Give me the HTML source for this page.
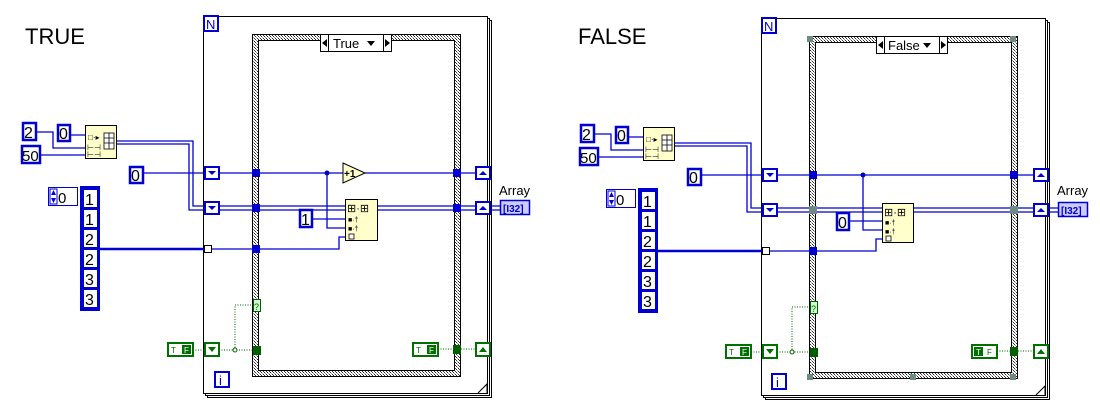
<!DOCTYPE html>
<html><head><meta charset="utf-8"><style>
html,body{margin:0;padding:0;background:#fff;}
svg{display:block;font-family:"Liberation Sans",sans-serif;}
</style></head><body>
<svg width="1100" height="418" viewBox="0 0 1100 418" xmlns="http://www.w3.org/2000/svg">
<defs>
<pattern id="hatch" width="3" height="3" patternUnits="userSpaceOnUse">
<rect width="3" height="3" fill="#fff"/><rect width="1" height="1" fill="#333"/><rect x="1" y="1" width="1" height="1" fill="#999"/><rect x="2" y="2" width="1" height="1" fill="#333"/>
</pattern>
</defs>

<!-- ================= TRUE ================= -->
<g>
<text x="25" y="44" font-size="22" fill="#000">TRUE</text>
<rect x="207.5" y="20.5" width="284" height="377" fill="none" stroke="#000"/>
<rect x="205.5" y="18.5" width="284" height="377" fill="#fff" stroke="#000"/>
<rect x="203.5" y="16.5" width="284" height="377" fill="#fff" stroke="#000"/>
<path d="M478 393 L487 384 L487 393" fill="#fff" stroke="#000"/>
<rect x="204" y="16" width="14" height="15" fill="#fff" stroke="#0000d0" stroke-width="2"/>
<text x="206" y="29" font-size="13" fill="#0000d0">N</text>
<rect x="252.5" y="34.5" width="208" height="342" fill="url(#hatch)" stroke="#000"/>
<rect x="258.5" y="40.5" width="196" height="330" fill="#fff" stroke="#000"/>
<rect x="320.5" y="34.5" width="71" height="17" fill="#fff" stroke="#000"/>
<line x1="328.5" y1="34" x2="328.5" y2="52" stroke="#000"/><line x1="383.5" y1="34" x2="383.5" y2="52" stroke="#000"/>
<path d="M327 39 L322 43 L327 47Z M385 39 L390 43 L385 47Z M367 41 L375 41 L371 46Z" fill="#000"/>
<text x="333" y="48" font-size="13">True</text>
<rect x="23" y="123" width="13" height="17" fill="#fff" stroke="#0000d0" stroke-width="2.5"/><text x="24" y="138" font-size="16">2</text>
<rect x="58" y="125" width="12" height="16" fill="#fff" stroke="#0000d0" stroke-width="2.5"/><text x="59" y="139" font-size="16">0</text>
<rect x="22" y="146" width="18" height="17" fill="#fff" stroke="#0000d0" stroke-width="2.5"/><text x="22" y="161" font-size="15">50</text>
<path d="M37 132 H53 V148 H86 M41 155 H86 M71 135 H86" fill="none" stroke="#0000d0" stroke-width="1.3"/>
<rect x="85.5" y="125.5" width="31" height="33" fill="#ffffcc" stroke="#000"/>
<text x="88" y="140" font-size="8">□·▸</text><text x="87" y="150" font-size="8">⊢⊣</text><text x="87" y="157" font-size="8">⊢⊣</text>
<rect x="104" y="133" width="10" height="16" fill="#fff" stroke="#000" stroke-width="0.8"/>
<path d="M104 138H114M104 143H114M109 133V149" stroke="#000" stroke-width="0.8"/>
<rect x="130" y="167" width="13" height="16" fill="#fff" stroke="#0000d0" stroke-width="2.5"/><text x="131" y="181" font-size="16">0</text>
<rect x="48.5" y="187.5" width="29" height="18" fill="#fff" stroke="#0000d0"/>
<rect x="50" y="189" width="7" height="15" fill="#fff" stroke="#0000d0"/>
<path d="M53.5 190 L56 195 L51 195Z M53.5 203 L56 198 L51 198Z" fill="#0000d0"/>
<text x="58" y="203" font-size="15">0</text>
<rect x="80.5" y="186.5" width="19" height="124" fill="#0000d0" stroke="#0000d0"/>
<g font-size="16" fill="#000">
<rect x="84" y="190" width="13" height="17" fill="#fff"/><text x="85" y="205">1</text>
<rect x="84" y="210" width="13" height="17" fill="#fff"/><text x="85" y="225">1</text>
<rect x="84" y="230" width="13" height="17" fill="#fff"/><text x="85" y="245">2</text>
<rect x="84" y="250" width="13" height="17" fill="#fff"/><text x="85" y="265">2</text>
<rect x="84" y="270" width="13" height="17" fill="#fff"/><text x="85" y="285">3</text>
<rect x="84" y="290" width="13" height="17" fill="#fff"/><text x="85" y="305">3</text>
</g>
<path d="M144 173 H205" stroke="#0000d0" stroke-width="1.3"/>
<path d="M219 173 H343 M365 173 H476" stroke="#0000d0" stroke-width="1.3"/>
<path d="M117 141 H193 V206 H205 M117 144 H189 V210 H205" fill="none" stroke="#0000d0" stroke-width="1.3"/>
<path d="M219 206 H345 M219 210 H345 M377 206 H476 M377 210 H476 M490 206 H500 M490 210 H500" stroke="#0000d0" stroke-width="1.3"/>
<path d="M100 249 H204" stroke="#0000d0" stroke-width="2.5"/>
<path d="M212 249 H339 V237 H345" fill="none" stroke="#0000d0" stroke-width="1.3"/>
<path d="M313 219 H345 M327 173 V228 H345" fill="none" stroke="#0000d0" stroke-width="1.3"/>
<circle cx="327" cy="173" r="2.5" fill="#0000d0"/>
<rect x="205" y="167" width="14" height="12" fill="#fff" stroke="#0000d0" stroke-width="2"/><path d="M208 171H216L212 175Z" fill="#0000d0"/>
<rect x="205" y="202" width="14" height="12" fill="#fff" stroke="#0000d0" stroke-width="2"/><path d="M208 206H216L212 210Z" fill="#0000d0"/>
<rect x="476" y="167" width="14" height="12" fill="#fff" stroke="#0000d0" stroke-width="2"/><path d="M479 175H487L483 171Z" fill="#0000d0"/>
<rect x="476" y="202" width="14" height="12" fill="#fff" stroke="#0000d0" stroke-width="2"/><path d="M479 210H487L483 206Z" fill="#0000d0"/>
<rect x="204.5" y="245.5" width="7" height="7" fill="#fff" stroke="#000"/>
<rect x="252" y="169" width="8" height="8" fill="#0000d0"/><rect x="252" y="204" width="8" height="8" fill="#0000d0"/><rect x="252" y="245" width="8" height="8" fill="#0000d0"/>
<rect x="453" y="169" width="8" height="8" fill="#0000d0"/><rect x="453" y="204" width="8" height="8" fill="#0000d0"/>
<path d="M343 163 L365 173 L343 183Z" fill="#ffffcc" stroke="#000"/><text x="344" y="177" font-size="10" font-weight="bold">+1</text>
<rect x="345.5" y="199.5" width="32" height="41" fill="#ffffcc" stroke="#000"/>
<text x="347" y="212" font-size="11">⊞·⊞</text>
<text x="348" y="222" font-size="7">■·†</text><text x="348" y="231" font-size="7">■·†</text>
<rect x="349" y="234" width="5" height="5" fill="#fff" stroke="#000" stroke-width="0.8"/>
<rect x="300" y="210" width="12" height="17" fill="#fff" stroke="#0000d0" stroke-width="2.5"/><text x="301" y="225" font-size="16">1</text>
<text x="499" y="195" font-size="13">Array</text>
<rect x="500.5" y="200.5" width="29" height="14" fill="#ccccff" stroke="#0000d0" stroke-width="1.5"/>
<text x="503" y="212" font-size="10" font-weight="bold" fill="#0000d0">[I32]</text>
<path d="M193 350 H205 M219 350 H253" stroke="#006000" stroke-dasharray="1,1.5"/>
<path d="M235 350 V305 H253" fill="none" stroke="#006000" stroke-dasharray="1,1.5"/>
<circle cx="235" cy="350" r="2" fill="#fff" stroke="#006000"/>
<rect x="253.5" y="299.5" width="7" height="12" fill="#ccffcc" stroke="#006000"/><text x="254" y="310" font-size="9" fill="#006000">?</text>
<rect x="168" y="343" width="25" height="13" fill="#fff" stroke="#007000" stroke-width="2"/><text x="171" y="353" font-size="8" fill="#007000">T</text><rect x="182" y="345" width="9" height="9" fill="#007000"/><text x="184" y="353" font-size="8" fill="#fff">F</text>
<rect x="205" y="343" width="14" height="13" fill="#fff" stroke="#007000" stroke-width="2"/><path d="M208 347H216L212 352Z" fill="#007000"/>
<rect x="253" y="346" width="8" height="9" fill="#006000"/>
<rect x="413" y="343" width="25" height="13" fill="#fff" stroke="#007000" stroke-width="2"/><text x="416" y="353" font-size="8" fill="#007000">T</text><rect x="427" y="345" width="9" height="9" fill="#007000"/><text x="429" y="353" font-size="8" fill="#fff">F</text>
<path d="M438 349 H453 M461 349 H476" stroke="#006000" stroke-dasharray="1,1.5"/>
<rect x="453" y="345" width="8" height="9" fill="#006000"/>
<rect x="476" y="343" width="14" height="13" fill="#fff" stroke="#007000" stroke-width="2"/><path d="M479 352H487L483 347Z" fill="#007000"/>
<rect x="215" y="372" width="14" height="15" fill="#fff" stroke="#0000d0" stroke-width="2"/><text x="219" y="385" font-size="13" fill="#0000d0">i</text>
</g>

<!-- ================= FALSE ================= -->
<g transform="translate(558,2)">
<text x="20" y="42" font-size="22" fill="#000">FALSE</text>
<rect x="207.5" y="20.5" width="284" height="377" fill="none" stroke="#000"/>
<rect x="205.5" y="18.5" width="284" height="377" fill="#fff" stroke="#000"/>
<rect x="203.5" y="16.5" width="284" height="377" fill="#fff" stroke="#000"/>
<path d="M478 393 L487 384 L487 393" fill="#fff" stroke="#000"/>
<rect x="204" y="16" width="14" height="15" fill="#fff" stroke="#0000d0" stroke-width="2"/>
<text x="206" y="29" font-size="13" fill="#0000d0">N</text>
<rect x="251.5" y="34.5" width="208" height="342" fill="url(#hatch)" stroke="#000"/>
<rect x="257.5" y="40.5" width="196" height="330" fill="#fff" stroke="#000"/>
<g fill="#6f8a80"><rect x="249" y="34" width="6" height="6"/><rect x="452" y="34" width="6" height="6"/><rect x="352" y="34" width="6" height="6"/><rect x="249" y="372" width="6" height="6"/><rect x="452" y="372" width="6" height="6"/><rect x="352" y="372" width="6" height="6"/></g>
<rect x="318.5" y="34.5" width="71" height="17" fill="#fff" stroke="#000"/>
<line x1="326.5" y1="34" x2="326.5" y2="52" stroke="#000"/><line x1="381.5" y1="34" x2="381.5" y2="52" stroke="#000"/>
<path d="M325 39 L320 43 L325 47Z M383 39 L388 43 L383 47Z M365 41 L373 41 L369 46Z" fill="#000"/>
<text x="330" y="48" font-size="13">False</text>
<rect x="23" y="123" width="13" height="17" fill="#fff" stroke="#0000d0" stroke-width="2.5"/><text x="24" y="138" font-size="16">2</text>
<rect x="58" y="125" width="12" height="16" fill="#fff" stroke="#0000d0" stroke-width="2.5"/><text x="59" y="139" font-size="16">0</text>
<rect x="22" y="146" width="18" height="17" fill="#fff" stroke="#0000d0" stroke-width="2.5"/><text x="22" y="161" font-size="15">50</text>
<path d="M37 132 H53 V148 H86 M41 155 H86 M71 135 H86" fill="none" stroke="#0000d0" stroke-width="1.3"/>
<rect x="85.5" y="125.5" width="31" height="33" fill="#ffffcc" stroke="#000"/>
<text x="88" y="140" font-size="8">□·▸</text><text x="87" y="150" font-size="8">⊢⊣</text><text x="87" y="157" font-size="8">⊢⊣</text>
<rect x="104" y="133" width="10" height="16" fill="#fff" stroke="#000" stroke-width="0.8"/>
<path d="M104 138H114M104 143H114M109 133V149" stroke="#000" stroke-width="0.8"/>
<rect x="130" y="167" width="13" height="16" fill="#fff" stroke="#0000d0" stroke-width="2.5"/><text x="131" y="181" font-size="16">0</text>
<rect x="48.5" y="187.5" width="29" height="18" fill="#fff" stroke="#0000d0"/>
<rect x="50" y="189" width="7" height="15" fill="#fff" stroke="#0000d0"/>
<path d="M53.5 190 L56 195 L51 195Z M53.5 203 L56 198 L51 198Z" fill="#0000d0"/>
<text x="58" y="203" font-size="15">0</text>
<rect x="80.5" y="186.5" width="19" height="124" fill="#0000d0" stroke="#0000d0"/>
<g font-size="16" fill="#000">
<rect x="84" y="190" width="13" height="17" fill="#fff"/><text x="85" y="205">1</text>
<rect x="84" y="210" width="13" height="17" fill="#fff"/><text x="85" y="225">1</text>
<rect x="84" y="230" width="13" height="17" fill="#fff"/><text x="85" y="245">2</text>
<rect x="84" y="250" width="13" height="17" fill="#fff"/><text x="85" y="265">2</text>
<rect x="84" y="270" width="13" height="17" fill="#fff"/><text x="85" y="285">3</text>
<rect x="84" y="290" width="13" height="17" fill="#fff"/><text x="85" y="305">3</text>
</g>
<path d="M144 173 H205 M219 173 H476" stroke="#0000d0" stroke-width="1.3"/>
<path d="M117 141 H193 V206 H205 M117 144 H189 V210 H205" fill="none" stroke="#0000d0" stroke-width="1.3"/>
<path d="M219 206 H324 M219 210 H324 M356 206 H476 M356 210 H476 M490 206 H500 M490 210 H500" stroke="#0000d0" stroke-width="1.3"/>
<path d="M100 249 H204" stroke="#0000d0" stroke-width="2.5"/>
<path d="M212 249 H318 V237 H324" fill="none" stroke="#0000d0" stroke-width="1.3"/>
<path d="M291 219 H324 M305 173 V228 H324" fill="none" stroke="#0000d0" stroke-width="1.3"/>
<circle cx="305" cy="173" r="2.5" fill="#0000d0"/>
<rect x="205" y="167" width="14" height="12" fill="#fff" stroke="#0000d0" stroke-width="2"/><path d="M208 171H216L212 175Z" fill="#0000d0"/>
<rect x="205" y="202" width="14" height="12" fill="#fff" stroke="#0000d0" stroke-width="2"/><path d="M208 206H216L212 210Z" fill="#0000d0"/>
<rect x="476" y="167" width="14" height="12" fill="#fff" stroke="#0000d0" stroke-width="2"/><path d="M479 175H487L483 171Z" fill="#0000d0"/>
<rect x="476" y="202" width="14" height="12" fill="#fff" stroke="#0000d0" stroke-width="2"/><path d="M479 210H487L483 206Z" fill="#0000d0"/>
<rect x="204.5" y="245.5" width="7" height="7" fill="#fff" stroke="#000"/>
<rect x="251" y="169" width="8" height="8" fill="#0000d0"/><rect x="251" y="204" width="8" height="8" fill="#6f8a80"/><rect x="251" y="245" width="8" height="8" fill="#0000d0"/>
<rect x="452" y="169" width="8" height="8" fill="#0000d0"/><rect x="452" y="204" width="8" height="8" fill="#6f8a80"/>
<rect x="324.5" y="201.5" width="31" height="39" fill="#ffffcc" stroke="#000"/>
<text x="326" y="214" font-size="11">⊞·⊞</text>
<text x="327" y="223" font-size="7">■·†</text><text x="327" y="232" font-size="7">■·†</text>
<rect x="328" y="234" width="5" height="5" fill="#fff" stroke="#000" stroke-width="0.8"/>
<rect x="279" y="211" width="12" height="17" fill="#fff" stroke="#0000d0" stroke-width="2.5"/><text x="280" y="226" font-size="16">0</text>
<text x="499" y="193" font-size="13">Array</text>
<rect x="500.5" y="200.5" width="29" height="14" fill="#ccccff" stroke="#0000d0" stroke-width="1.5"/>
<text x="503" y="212" font-size="10" font-weight="bold" fill="#0000d0">[I32]</text>
<path d="M193 350 H205 M219 350 H252" stroke="#006000" stroke-dasharray="1,1.5"/>
<path d="M234 350 V305 H252" fill="none" stroke="#006000" stroke-dasharray="1,1.5"/>
<circle cx="234" cy="350" r="2" fill="#fff" stroke="#006000"/>
<rect x="252.5" y="299.5" width="7" height="12" fill="#ccffcc" stroke="#006000"/><text x="253" y="310" font-size="9" fill="#006000">?</text>
<rect x="168" y="343" width="25" height="13" fill="#fff" stroke="#007000" stroke-width="2"/><text x="171" y="353" font-size="8" fill="#007000">T</text><rect x="182" y="345" width="9" height="9" fill="#007000"/><text x="184" y="353" font-size="8" fill="#fff">F</text>
<rect x="205" y="343" width="14" height="13" fill="#fff" stroke="#007000" stroke-width="2"/><path d="M208 347H216L212 352Z" fill="#007000"/>
<rect x="252" y="346" width="8" height="9" fill="#006000"/>
<rect x="414" y="343" width="25" height="13" fill="#fff" stroke="#007000" stroke-width="2"/><rect x="416" y="345" width="9" height="9" fill="#007000"/><text x="418" y="353" font-size="8" fill="#fff">T</text><text x="429" y="353" font-size="8" fill="#007000">F</text>
<path d="M439 349 H452 M460 349 H476" stroke="#006000" stroke-dasharray="1,1.5"/>
<rect x="452" y="345" width="8" height="9" fill="#006000"/>
<rect x="476" y="343" width="14" height="13" fill="#fff" stroke="#007000" stroke-width="2"/><path d="M479 352H487L483 347Z" fill="#007000"/>
<rect x="214" y="372" width="14" height="15" fill="#fff" stroke="#0000d0" stroke-width="2"/><text x="218" y="385" font-size="13" fill="#0000d0">i</text>
</g>
</svg>
</body></html>
